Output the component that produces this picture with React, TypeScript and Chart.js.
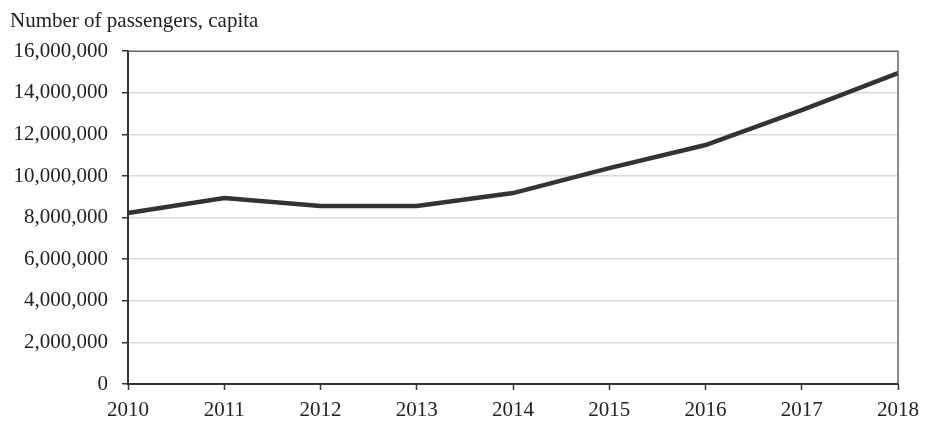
import React, { useEffect, useRef } from "react";
import { Chart, registerables } from "chart.js";

Chart.register(...registerables);

const years = ["2010", "2011", "2012", "2013", "2014", "2015", "2016", "2017", "2018"];
const passengers = [8220000, 8940000, 8560000, 8560000, 9180000, 10380000, 11490000, 13170000, 14950000];
const titleText = "Number of passengers, capita";

const FONT = "'Liberation Serif', 'DejaVu Serif', serif";

const frame = {
  id: "frame",
  afterDatasetsDraw(chart: any) {
    const { ctx, chartArea } = chart;
    ctx.save();
    ctx.strokeStyle = "#666666";
    ctx.lineWidth = 1.5;
    ctx.beginPath();
    ctx.moveTo(chartArea.left, chartArea.top);
    ctx.lineTo(chartArea.right, chartArea.top);
    ctx.lineTo(chartArea.right, chartArea.bottom);
    ctx.stroke();
    ctx.restore();
  },
};

export default function App() {
  const ref = useRef<HTMLCanvasElement | null>(null);
  useEffect(() => {
    document.body.style.margin = "0";
    const chart = new Chart(ref.current!, {
      type: "line",
      data: {
        labels: years,
        datasets: [
          {
            data: passengers,
            borderColor: "#333333",
            borderWidth: 4.5,
            pointRadius: 0,
            tension: 0,
          },
        ],
      },
      options: {
        animation: false,
        responsive: false,
        layout: { padding: { left: 10, right: 27, top: 0, bottom: 0 } },
        plugins: {
          legend: { display: false },
          tooltip: { enabled: false },
          title: {
            display: true,
            text: titleText,
            align: "start",
            color: "#222",
            font: { family: FONT, size: 21, weight: "normal" },
            padding: { top: 9, bottom: 17 },
          },
        },
        scales: {
          x: {
            offset: false,
            grid: { drawOnChartArea: false, drawTicks: true, tickLength: 6, tickColor: "#333", tickWidth: 1.5 },
            border: { color: "#333", width: 2 },
            ticks: { color: "#222", font: { family: FONT, size: 21 }, padding: 8, maxRotation: 0 },
            afterFit: (s: any) => {
              s.height = 39;
              s.paddingRight = 0;
              s.paddingLeft = 0;
            },
          },
          y: {
            min: 0,
            max: 16000000,
            grid: {
              color: (c: any) => (c.tick && c.tick.value === 16000000 ? "rgba(0,0,0,0)" : "#d9d9d9"),
              lineWidth: 1.5,
              tickLength: 6,
              tickColor: "#333",
              tickWidth: 1.5,
            },
            border: { color: "#333", width: 2 },
            ticks: {
              stepSize: 2000000,
              color: "#222",
              font: { family: FONT, size: 21 },
              padding: 14,
              callback: (v: any) => Number(v).toLocaleString("en-US"),
            },
            afterFit: (s: any) => {
              s.width = 118;
              s.paddingTop = 0;
              s.paddingBottom = 0;
            },
          },
        },
      },
      plugins: [frame],
    });
    return () => chart.destroy();
  }, []);
  return <canvas ref={ref} width={925} height={423} style={{ display: "block" }} />;
}
